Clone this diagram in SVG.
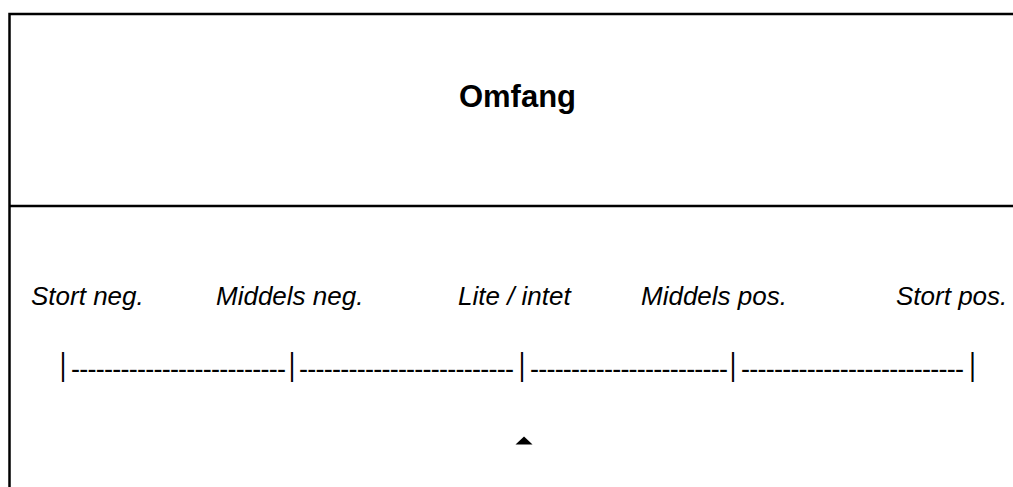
<svg xmlns="http://www.w3.org/2000/svg" width="1013" height="487" viewBox="0 0 1013 487">
<style>
.frame{stroke:#000;stroke-width:2.5;fill:none}
.lbl{font-family:"Liberation Sans",Arial,sans-serif;font-style:italic;font-size:26px;fill:#000}
.title{font-family:"Liberation Sans",Arial,sans-serif;font-weight:bold;font-size:31px;fill:#000}
.dash{font-family:"Liberation Sans",Arial,sans-serif;font-size:27px;fill:#000}
.pipe{font-family:"Liberation Sans",Arial,sans-serif;font-size:25px;fill:#000}
</style>
<rect width="1013" height="487" fill="#fff"/>
<g id="frame">
<path class="frame" d="M9.5,487 V14 H1014"/>
<path class="frame" d="M9.5,206 H1014"/>
</g>
<g id="title"><text class="title" x="517.5" y="107" text-anchor="middle">Omfang</text></g>
<g id="labels">
<text class="lbl" x="31" y="305">Stort neg.</text>
<text class="lbl" x="216" y="305">Middels neg.</text>
<text class="lbl" x="458" y="305">Lite / intet</text>
<text class="lbl" x="641" y="305">Middels pos.</text>
<text class="lbl" x="896" y="305">Stort pos.</text>
</g>
<g id="scale">
<g transform="scale(1,1.25)">
<text class="pipe" x="63" y="300.3" text-anchor="middle">|</text>
<text class="pipe" x="292" y="300.3" text-anchor="middle">|</text>
<text class="pipe" x="522" y="300.3" text-anchor="middle">|</text>
<text class="pipe" x="733" y="300.3" text-anchor="middle">|</text>
<text class="pipe" x="972.5" y="300.3" text-anchor="middle">|</text>
</g>
<text class="dash" x="71" y="377.5" textLength="215" lengthAdjust="spacing">--------------------------</text>
<text class="dash" x="299" y="377.5" textLength="215" lengthAdjust="spacing">--------------------------</text>
<text class="dash" x="530" y="377.5" textLength="198" lengthAdjust="spacing">------------------------</text>
<text class="dash" x="741" y="377.5" textLength="223" lengthAdjust="spacing">---------------------------</text>
</g>
<g id="marker">
<polygon points="515.5,444.5 532.5,444.5 524,436.5" fill="#000"/>
</g>
</svg>
